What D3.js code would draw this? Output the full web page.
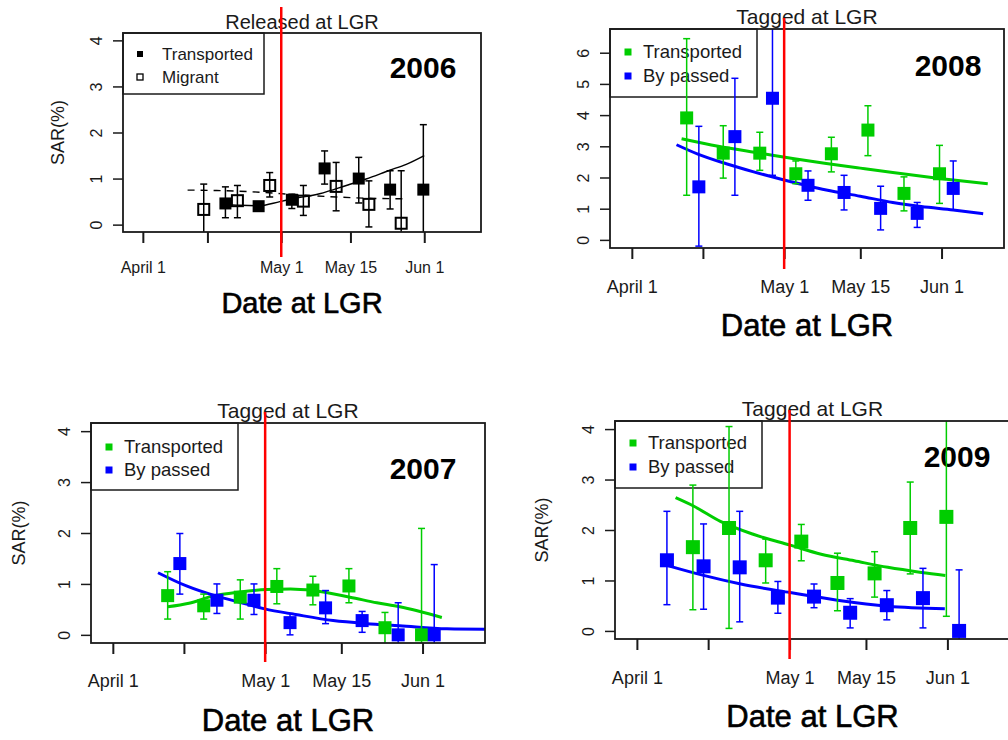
<!DOCTYPE html>
<html>
<head>
<meta charset="utf-8">
<script src="https://cdn.jsdelivr.net/npm/d3@7"></script>
<style>
  body { margin: 0; background: #fff; }
  svg { display: block; font-family: "Liberation Sans", Arial, sans-serif; }
</style>
</head>
<body>
<div id="chart"></div>
<script>
// x values are days after April 1
const xTickDays = [0, 14, 30, 45, 61];
const xTickLabels = ["April 1", "", "May 1", "May 15", "Jun 1"];
const releaseDay = 30;

// [day, SAR, lower, upper]
const trans2006 = [
  [17.9, 0.46, 0.15, 0.82], [25.1, 0.40, 0.33, 0.47], [32.3, 0.54, 0.35, 0.66],
  [39.4, 1.22, 0.88, 1.60], [46.8, 1.00, 0.47, 1.46], [53.6, 0.76, 0.34, 1.17],
  [60.8, 0.76, -0.3, 2.17]
];
const migr2006 = [
  [13.2, 0.33, -0.3, 0.88], [20.5, 0.52, 0.15, 0.85], [27.5, 0.85, 0.60, 1.13],
  [34.8, 0.51, 0.20, 0.85], [41.9, 0.83, 0.30, 1.35], [49.0, 0.44, -0.05, 0.95],
  [56.0, 0.03, -0.3, 1.17]
];
const fitTrans2006 = [[17.3, 0.44], [21, 0.42], [25.1, 0.41], [29.7, 0.50], [32.5, 0.56],
  [38.3, 0.67], [44.1, 0.85], [48.4, 0.99], [53.5, 1.18], [57.1, 1.31], [61, 1.50]];
const fitMigr2006 = [[9.7, 0.75], [16, 0.74], [26, 0.70], [33, 0.65], [42, 0.60], [50, 0.57], [57, 0.56]];

const trans2008 = [
  [10.8, 3.91, 1.43, 6.45], [18.0, 2.78, 1.98, 3.66], [25.2, 2.78, 2.23, 3.45],
  [32.3, 2.12, 1.80, 2.53], [39.3, 2.76, 2.18, 3.29], [46.5, 3.52, 2.70, 4.30],
  [53.6, 1.49, 0.93, 2.02], [60.6, 2.12, 1.17, 3.03]
];
const byp2008 = [
  [13.2, 1.70, -0.20, 3.64], [20.3, 3.31, 1.43, 5.18], [27.7, 4.54, 2.07, 7.00],
  [34.7, 1.75, 1.27, 2.21], [41.8, 1.52, 0.96, 2.07], [49.0, 1.01, 0.32, 1.72],
  [56.2, 0.85, 0.40, 1.20], [63.3, 1.65, 0.96, 2.53]
];
const fitTrans2008 = [[9.8, 3.24], [17, 3.0], [25.2, 2.78], [32, 2.6], [38.3, 2.45], [45, 2.3],
  [51.4, 2.16], [60.6, 1.97], [70.1, 1.8]];
const fitByp2008 = [[8.8, 3.05], [13, 2.75], [18.6, 2.44], [24, 2.18], [29.8, 1.93], [38.3, 1.6],
  [45, 1.4], [51.4, 1.2], [57, 1.07], [63.3, 0.96], [69.2, 0.84]];

const trans2007 = [
  [10.8, 0.77, 0.31, 1.24], [17.9, 0.57, 0.31, 0.80], [25.1, 0.74, 0.31, 1.08],
  [32.3, 0.95, 0.61, 1.30], [39.4, 0.88, 0.59, 1.15], [46.5, 0.96, 0.63, 1.30],
  [53.6, 0.14, -0.3, 0.44], [60.8, 0.00, -0.3, 2.09]
];
const byp2007 = [
  [13.2, 1.40, 0.80, 1.99], [20.5, 0.68, 0.42, 1.00], [27.8, 0.68, 0.40, 1.00],
  [34.9, 0.24, 0.00, 0.42], [41.9, 0.53, 0.22, 0.87], [49.1, 0.28, 0.05, 0.46],
  [56.2, 0.00, -0.3, 0.63], [63.3, 0.00, -0.3, 1.38]
];
const fitTrans2007 = [[10.8, 0.55], [15, 0.62], [19.7, 0.76], [25, 0.84], [30.3, 0.89], [35, 0.9],
  [39.4, 0.87], [46.7, 0.74], [52, 0.63], [56.5, 0.55], [64.8, 0.34]];
const fitByp2007 = [[8.9, 1.22], [14.5, 0.96], [20.4, 0.76], [25, 0.64], [29.9, 0.51], [36, 0.4],
  [43.4, 0.28], [50, 0.22], [56.5, 0.18], [65.8, 0.12], [75, 0.11]];

const trans2009 = [
  [11.0, 1.66, 0.42, 2.89], [18.1, 2.04, 0.05, 4.05], [25.3, 1.40, 0.95, 1.82],
  [32.3, 1.77, 1.39, 2.11], [39.4, 0.95, 0.40, 1.54], [46.7, 1.14, 0.67, 1.57],
  [53.7, 2.04, 1.13, 2.95], [60.8, 2.26, 0.29, 4.60]
];
const byp2009 = [
  [5.9, 1.40, 0.52, 2.37], [13.1, 1.28, 0.43, 2.12], [20.2, 1.26, 0.18, 2.37],
  [27.7, 0.66, 0.35, 0.98], [34.8, 0.68, 0.46, 0.93], [41.9, 0.36, 0.06, 0.64],
  [49.1, 0.51, 0.22, 0.80], [56.2, 0.65, 0.06, 1.24], [63.3, 0.00, -0.3, 1.21]
];
const fitTrans2009 = [[7.6, 2.64], [11.2, 2.47], [16.4, 2.17], [23, 1.91], [30.1, 1.7], [36.2, 1.52],
  [42.7, 1.39], [49.3, 1.26], [55.9, 1.16], [60.6, 1.1]];
const fitByp2009 = [[6.2, 1.29], [13.1, 1.1], [20.4, 0.93], [30.1, 0.76], [39.4, 0.61], [49.3, 0.49], [60.5, 0.44]];

const GREEN = "#00cd00", BLUE = "#0000ff", RED = "#ff0000", INK = "#1a1a1a";
const xDomain = [-4.3, 73.3];

const panels = [
  {
    year: "2006", title: "Released at LGR", box: { l: 123, t: 33, r: 481, b: 232 },
    yDomain: [-0.16, 4.16], yTicks: [0, 1, 2, 3, 4], sar: 58,
    series: [
      { pts: trans2006, fit: fitTrans2006, color: "#000", filled: true, label: "Transported", size: 12, lw: 1.4, dash: null },
      { pts: migr2006, fit: fitMigr2006, color: "#000", filled: false, label: "Migrant", size: 11, lw: 1.4, dash: "7,6" }
    ],
    legend: { w: 141, h: 61, symX: 17, textX: 39, rows: [21, 44], font: 17, sym: 6 },
    titleFont: 20, titleDy: -4, xTickFont: 16, xTickDy: 41, xLabelFont: 29, xLabelDy: 81,
    yearDx: -58, yearDy: 45, redTop: -26, redBottom: 25
  },
  {
    year: "2008", title: "Tagged at LGR", box: { l: 610, t: 29, r: 1004, b: 248 },
    yDomain: [-0.26, 6.76], yTicks: [0, 1, 2, 3, 4, 5, 6], sar: null,
    series: [
      { pts: trans2008, fit: fitTrans2008, color: GREEN, filled: true, label: "Transported", size: 13, lw: 3, dash: null },
      { pts: byp2008, fit: fitByp2008, color: BLUE, filled: true, label: "By passed", size: 13, lw: 3, dash: null }
    ],
    legend: { w: 147, h: 68, symX: 18, textX: 33, rows: [23, 47], font: 18.5, sym: 7 },
    titleFont: 21, titleDy: -5, xTickFont: 18, xTickDy: 45, xLabelFont: 31, xLabelDy: 88,
    yearDx: -56, yearDy: 47, redTop: -11, redBottom: 21
  },
  {
    year: "2007", title: "Tagged at LGR", box: { l: 91, t: 423, r: 485, b: 643 },
    yDomain: [-0.16, 4.16], yTicks: [0, 1, 2, 3, 4], sar: 19,
    series: [
      { pts: trans2007, fit: fitTrans2007, color: GREEN, filled: true, label: "Transported", size: 13, lw: 3, dash: null },
      { pts: byp2007, fit: fitByp2007, color: BLUE, filled: true, label: "By passed", size: 13, lw: 3, dash: null }
    ],
    legend: { w: 147, h: 67, symX: 18, textX: 33, rows: [24, 47], font: 18.5, sym: 7 },
    titleFont: 21, titleDy: -5, xTickFont: 18, xTickDy: 44, xLabelFont: 31, xLabelDy: 88,
    yearDx: -62, yearDy: 56, redTop: -11, redBottom: 19
  },
  {
    year: "2009", title: "Tagged at LGR", box: { l: 615, t: 421, r: 1010, b: 639 },
    yDomain: [-0.16, 4.16], yTicks: [0, 1, 2, 3, 4], sar: 542,
    series: [
      { pts: trans2009, fit: fitTrans2009, color: GREEN, filled: true, label: "Transported", size: 14, lw: 3, dash: null },
      { pts: byp2009, fit: fitByp2009, color: BLUE, filled: true, label: "By passed", size: 14, lw: 3, dash: null }
    ],
    legend: { w: 147, h: 67, symX: 18, textX: 33, rows: [22, 46], font: 18.5, sym: 7 },
    titleFont: 21, titleDy: -5, xTickFont: 18, xTickDy: 45, xLabelFont: 31, xLabelDy: 88,
    yearDx: -51, yearDy: 46, redTop: -11, redBottom: 20
  }
];

const svg = d3.select("#chart").append("svg")
  .attr("width", 1008)
  .attr("height", 740);

function drawPanel(p, idx) {
  const b = p.box;
  const x = d3.scaleLinear().domain(xDomain).range([b.l, b.r]);
  const y = d3.scaleLinear().domain(p.yDomain).range([b.b, b.t]);
  const g = svg.append("g");
  const cx = (b.l + Math.min(b.r, 1008)) / 2;
  const mid = (p.box.l + p.box.r) / 2;

  // title
  g.append("text")
    .attr("x", mid).attr("y", b.t + p.titleDy)
    .attr("text-anchor", "middle")
    .style("font-size", p.titleFont + "px")
    .attr("fill", INK)
    .text(p.title);

  // y axis, labels rotated like base R
  const yAxis = g.append("g")
    .attr("transform", `translate(${b.l},0)`)
    .call(d3.axisLeft(y).tickValues(p.yTicks).tickSize(10).tickFormat(d3.format("d")));
  yAxis.select(".domain").remove();
  yAxis.selectAll("line").attr("stroke", INK).attr("stroke-width", 1.5);
  yAxis.selectAll("text")
    .attr("transform", "rotate(-90)")
    .attr("x", 0).attr("y", -21).attr("dy", null)
    .attr("text-anchor", "middle")
    .attr("fill", INK)
    .style("font-size", "16px")
    .style("font-family", "'Liberation Sans', Arial, sans-serif");

  // x axis
  const xAxis = g.append("g")
    .attr("transform", `translate(0,${b.b})`)
    .call(d3.axisBottom(x).tickValues(xTickDays).tickSize(11).tickFormat((d, i) => xTickLabels[i]));
  xAxis.select(".domain").remove();
  xAxis.selectAll("line").attr("stroke", INK).attr("stroke-width", 2);
  xAxis.selectAll("text")
    .attr("y", p.xTickDy).attr("dy", null)
    .attr("fill", INK)
    .style("font-size", p.xTickFont + "px")
    .style("font-family", "'Liberation Sans', Arial, sans-serif");

  // axis titles
  g.append("text")
    .attr("x", mid).attr("y", b.b + p.xLabelDy)
    .attr("text-anchor", "middle")
    .style("font-size", p.xLabelFont + "px")
    .attr("fill", "#000").attr("stroke", "#000").attr("stroke-width", 0.6)
    .text("Date at LGR");

  if (p.sar !== null) {
    g.append("text")
      .attr("transform", `translate(${p.sar},${(b.t + b.b) / 2}) rotate(-90)`)
      .attr("text-anchor", "middle")
      .attr("dy", "0.35em")
      .style("font-size", "18px")
      .attr("fill", INK)
      .text("SAR(%)");
  }

  // legend (drawn under the data)
  const lg = p.legend;
  g.append("rect")
    .attr("x", b.l).attr("y", b.t)
    .attr("width", lg.w).attr("height", lg.h)
    .attr("fill", "none").attr("stroke", INK).attr("stroke-width", 1.5);
  p.series.forEach((s, i) => {
    const ly = b.t + lg.rows[i];
    g.append("rect")
      .attr("x", b.l + lg.symX - lg.sym / 2).attr("y", ly - lg.sym / 2)
      .attr("width", lg.sym).attr("height", lg.sym)
      .attr("fill", s.filled ? s.color : "none")
      .attr("stroke", s.filled ? "none" : s.color).attr("stroke-width", 1.3);
    g.append("text")
      .attr("x", b.l + lg.textX).attr("y", ly).attr("dy", "0.35em")
      .style("font-size", lg.font + "px")
      .attr("fill", INK)
      .text(s.label);
  });

  // year label
  g.append("text")
    .attr("x", b.r > 1008 ? 1008 + p.yearDx : b.r + p.yearDx).attr("y", b.t + p.yearDy)
    .attr("text-anchor", "middle")
    .style("font-size", "30px").style("font-weight", "bold")
    .attr("fill", "#000")
    .text(p.year);

  // plotted data, clipped to the box
  const clipId = "clip" + idx;
  svg.append("clipPath").attr("id", clipId)
    .append("rect").attr("x", b.l).attr("y", b.t)
    .attr("width", b.r - b.l).attr("height", b.b - b.t);
  const plot = g.append("g").attr("clip-path", `url(#${clipId})`);

  const line = d3.line().x(d => x(d[0])).y(d => y(d[1])).curve(d3.curveMonotoneX);

  p.series.forEach(s => {
    plot.append("path")
      .datum(s.fit)
      .attr("d", line)
      .attr("fill", "none")
      .attr("stroke", s.color)
      .attr("stroke-width", s.lw)
      .attr("stroke-dasharray", s.dash);
  });

  p.series.forEach(s => {
    const bars = plot.append("g").attr("stroke", s.color).attr("stroke-width", 1.5);
    s.pts.forEach(d => {
      const px = x(d[0]);
      bars.append("line").attr("x1", px).attr("x2", px).attr("y1", y(d[2])).attr("y2", y(d[3]));
      bars.append("line").attr("x1", px - 3.5).attr("x2", px + 3.5).attr("y1", y(d[2])).attr("y2", y(d[2]));
      bars.append("line").attr("x1", px - 3.5).attr("x2", px + 3.5).attr("y1", y(d[3])).attr("y2", y(d[3]));
    });
    plot.append("g").selectAll("rect")
      .data(s.pts)
      .join("rect")
      .attr("x", d => x(d[0]) - s.size / 2)
      .attr("y", d => y(d[1]) - s.size / 2)
      .attr("width", s.size).attr("height", s.size)
      .attr("fill", s.filled ? s.color : "none")
      .attr("stroke", s.filled ? "none" : s.color)
      .attr("stroke-width", 2);
  });

  // plot frame
  g.append("rect")
    .attr("x", b.l).attr("y", b.t)
    .attr("width", b.r - b.l).attr("height", b.b - b.t)
    .attr("fill", "none").attr("stroke", INK).attr("stroke-width", 1.8);

  // May 1 marker
  g.append("line")
    .attr("x1", x(releaseDay)).attr("x2", x(releaseDay))
    .attr("y1", b.t + p.redTop).attr("y2", b.b + p.redBottom)
    .attr("stroke", RED).attr("stroke-width", 2.5);
}

panels.forEach(drawPanel);
</script>
</body>
</html>
